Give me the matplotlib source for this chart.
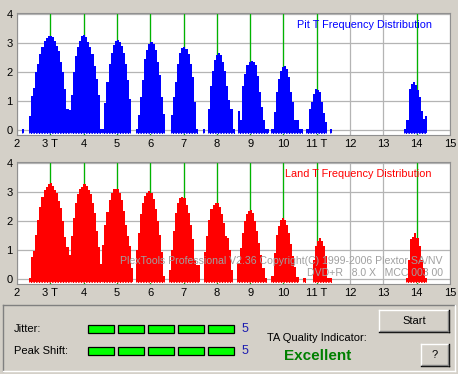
import matplotlib
matplotlib.use("Agg")
import matplotlib.pyplot as plt
from matplotlib.patches import Rectangle

plt.rcParams["font.family"] = ["Liberation Sans", "DejaVu Sans"]

# histogram bin width (in T units)
BIN = 0.0625

# Pit T distribution: start of each cluster and its bar heights (log10 count)
pit_starts = [2.16, 2.36, 3.61, 4.56, 5.57, 6.62, 7.58, 7.72, 8.64, 9.64, 10.69, 11.40, 13.63]
pit_heights = [
    [0.02],
    [0.48, 1.16, 1.46, 2.01, 2.27, 2.60, 2.84, 3.05, 3.15, 3.22, 3.24, 3.20, 3.07, 2.90, 2.72,
     2.33, 1.99, 1.41, 0.73, 0.70],
    [1.21, 1.99, 2.56, 2.84, 3.07, 3.22, 3.26, 3.19, 3.01, 2.84, 2.61, 2.21, 1.76, 1.21, 0.02],
    [0.02, 0.94, 1.65, 2.28, 2.63, 2.91, 3.06, 3.10, 3.04, 2.88, 2.63, 2.28, 1.71, 1.07],
    [0.02, 0.51, 1.14, 1.71, 2.45, 2.76, 2.97, 3.04, 2.97, 2.74, 2.34, 1.88, 1.14, 0.55],
    [0.51, 1.14, 1.65, 2.28, 2.63, 2.82, 2.86, 2.80, 2.60, 2.28, 1.82, 0.97, 0.02],
    [0.02],
    [0.74, 1.51, 2.03, 2.40, 2.57, 2.63, 2.57, 2.34, 2.03, 1.50, 1.03, 0.73, 0.02],
    [0.64, 0.33, 1.53, 1.93, 2.22, 2.35, 2.38, 2.34, 2.22, 1.87, 1.30, 0.79, 0.33, 0.02, 0.02],
    [0.02, 0.61, 1.32, 1.76, 2.04, 2.16, 2.19, 2.10, 1.81, 1.30, 0.96, 0.33, 0.33, 0.02, 0.02],
    [0.02, 0.73, 0.96, 1.24, 1.42, 1.36, 1.30, 0.96, 0.59, 0.27],
    [0.02],
    [0.02, 0.33, 1.42, 1.59, 1.64, 1.55, 1.36, 1.13, 0.64, 0.39, 0.47],
]

# Land T distribution
land_starts = [2.36, 3.62, 4.56, 5.57, 6.56, 7.62, 8.62, 9.64, 10.60, 10.88, 13.68]
land_heights = [
    [0.03, 0.76, 0.95, 1.53, 2.04, 2.48, 2.83, 3.06, 3.17, 3.25, 3.29, 3.19, 3.06, 2.97, 2.68,
     2.45, 1.99, 1.44, 1.10, 0.84],
    [1.47, 2.10, 2.62, 2.91, 3.08, 3.17, 3.25, 3.19, 3.06, 2.91, 2.62, 2.28, 1.64, 1.10, 0.53],
    [1.18, 1.84, 2.30, 2.73, 2.97, 3.08, 3.10, 3.08, 2.97, 2.71, 2.33, 1.87, 1.49, 1.12, 0.37],
    [1.00, 1.59, 2.22, 2.62, 2.85, 2.97, 3.02, 2.97, 2.74, 2.39, 1.99, 1.52, 0.94, 0.09],
    [0.32, 1.00, 1.64, 2.27, 2.62, 2.79, 2.83, 2.79, 2.56, 2.27, 1.87, 1.36, 0.67, 0.49, 0.49],
    [0.94, 1.47, 2.04, 2.39, 2.56, 2.62, 2.60, 2.48, 2.22, 1.93, 1.47, 1.41, 1.01, 0.32],
    [0.55, 1.07, 1.59, 1.99, 2.22, 2.33, 2.37, 2.27, 1.99, 1.64, 1.24, 0.84, 0.37, 0.03],
    [0.10, 0.90, 1.53, 1.81, 2.04, 2.10, 2.04, 1.87, 1.59, 1.22, 0.78, 0.43, 0.07],
    [0.03],
    [0.67, 1.13, 1.30, 1.41, 1.30, 1.13, 0.78, 0.03, 0.03],
    [0.05, 0.67, 1.36, 1.44, 1.59, 1.41, 1.12, 0.67, 0.37, 0.03],
]

t_marks = [3, 4, 5, 6, 7, 8, 9, 10, 11, 14]
x_ticks = list(range(2, 16))
x_labels = ["2", "3 T", "4", "5", "6", "7", "8", "9", "10", "11 T", "12", "13", "14", "15"]
y_ticks = [0, 1, 2, 3, 4]

jitter_level = 5
peak_shift_level = 5
quality = "Excellent"
watermark = ["PlexTools Professional V2.36 Copyright(C) 1999-2006 Plextor SA/NV",
             "DVD+R   8.0 X   MCC 003 00"]

BG = "#D4D0C8"
BASE = -0.13


def draw_hist(ax, starts, heights, color, title):
    ax.set_facecolor("white")
    ax.set_xlim(2, 15)
    ax.set_ylim(-0.17, 4.02)
    ax.set_xticks(x_ticks)
    ax.set_xticklabels(x_labels)
    ax.set_yticks(y_ticks)
    ax.tick_params(length=0, labelsize=8, pad=3)
    ax.grid(True, color="#B4B4B4", linewidth=0.9, zorder=0)
    ax.set_axisbelow(True)
    for t in t_marks:
        ax.axvline(t, color="#00B400", linewidth=0.9, zorder=1)
    for s, hs in zip(starts, heights):
        edges = [s + i * BIN for i in range(len(hs) + 1)]
        ax.stairs(hs, edges, baseline=BASE, fill=True, color=color,
                  linewidth=0, zorder=2)
        # serrated bottom edge of the bars
        ax.hlines(BASE + 0.015, edges[0], edges[-1], colors="white", linewidth=0.8,
                  linestyles=(0, (1.2, 1.2)), zorder=3)
    for side in ["left", "top", "right", "bottom"]:
        ax.spines[side].set_color("#909090")
        ax.spines[side].set_linewidth(0.8)
    ax.text(0.958, 0.90, title, transform=ax.transAxes, ha="right", va="center",
            color=color, fontsize=7.8, zorder=4)


fig = plt.figure(figsize=(4.58, 3.74), dpi=100, facecolor=BG)

# background layer in pixel coordinates for the control panel
bg = fig.add_axes([0, 0, 1, 1])
bg.set_xlim(0, 458)
bg.set_ylim(374, 0)
bg.axis("off")
bg.set_zorder(-1)

ax1 = fig.add_axes([17 / 458, 1 - 135 / 374, 433 / 458, 122 / 374])
ax2 = fig.add_axes([17 / 458, 1 - 284 / 374, 433 / 458, 122 / 374])
draw_hist(ax1, pit_starts, pit_heights, "#0000FF", "Pit T Frequency Distribution")
draw_hist(ax2, land_starts, land_heights, "#FF0000", "Land T Frequency Distribution")

ax2.text(0.983, 0.19, watermark[0], transform=ax2.transAxes, ha="right", va="center",
         color="#A0A0A0", fontsize=7.6, zorder=5)
ax2.text(0.983, 0.088, watermark[1], transform=ax2.transAxes, ha="right", va="center",
         color="#A0A0A0", fontsize=7.6, zorder=5)

# sunken panel
bg.plot([3, 455], [305, 305], color="#808080", lw=1)
bg.plot([3, 3], [305, 371], color="#808080", lw=1)
bg.plot([3, 455], [371, 371], color="white", lw=1)
bg.plot([455, 455], [305, 371], color="white", lw=1)

bg.text(14, 329, "Jitter:", fontsize=8, va="center", ha="left")
bg.text(14, 351, "Peak Shift:", fontsize=8, va="center", ha="left")
for row, level in [(324.5, jitter_level), (346.5, peak_shift_level)]:
    for i in range(level):
        bg.add_patch(Rectangle((87.5 + i * 30, row), 26.5, 8.2, facecolor="#00FF00",
                               edgecolor="black", lw=0.9))
    bg.text(245, row + 4.5, str(level), color="#1C1CB0", fontsize=9, va="center", ha="center")

bg.text(317, 338, "TA Quality Indicator:", fontsize=8, va="center", ha="center")
bg.text(318, 356, quality, fontsize=11, fontweight="bold", color="#008000",
        va="center", ha="center")


def button(x0, y0, x1, y1, label):
    bg.add_patch(Rectangle((x0, y0), x1 - x0, y1 - y0, facecolor=BG, edgecolor="none"))
    bg.plot([x0, x1], [y0, y0], color="white", lw=1)
    bg.plot([x0, x0], [y0, y1], color="white", lw=1)
    bg.plot([x0, x1], [y1, y1], color="black", lw=1)
    bg.plot([x1, x1], [y0, y1], color="black", lw=1)
    bg.plot([x0 + 1, x1 - 1], [y1 - 1, y1 - 1], color="#808080", lw=1)
    bg.plot([x1 - 1, x1 - 1], [y0 + 1, y1 - 1], color="#808080", lw=1)
    bg.text((x0 + x1) / 2, (y0 + y1) / 2, label, fontsize=8, va="center", ha="center")


button(379, 310, 449, 332, "Start")
button(421, 344, 449, 366, "?")

fig.savefig("out.png", dpi=100, facecolor=BG)
